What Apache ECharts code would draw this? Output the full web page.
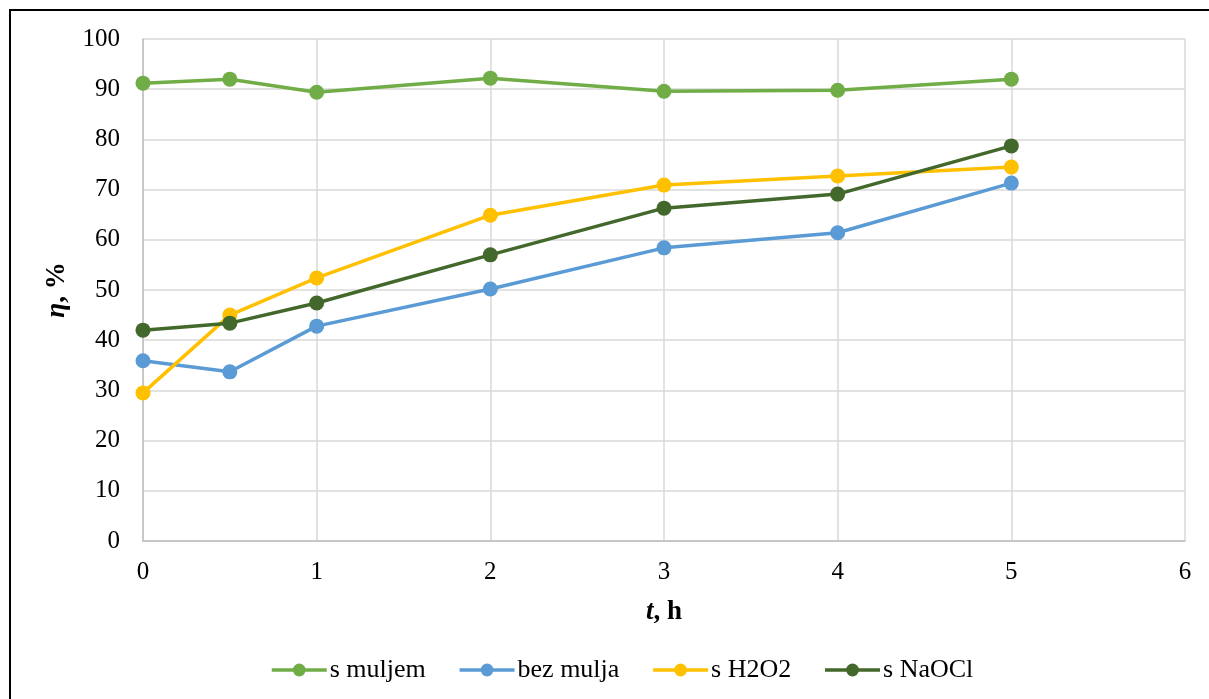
<!DOCTYPE html>
<html>
<head>
<meta charset="utf-8">
<script src="https://cdn.jsdelivr.net/npm/echarts@6/dist/echarts.min.js"></script>
<style>
html,body{margin:0;padding:0;background:#fff;}
#c{width:1209px;height:699px;}
</style>
</head>
<body>
<div id="c"></div>
<script>
const seriesNames = ['s muljem', 'bez mulja', 's H2O2', 's NaOCl'];
const tValues = [0, 0.5, 1, 2, 3, 4, 5];
const sMuljem = [91.2, 92.0, 89.4, 92.2, 89.6, 89.8, 92.0];
const bezMulja = [35.9, 33.7, 42.8, 50.2, 58.4, 61.4, 71.3];
const sH2O2 = [29.5, 45.0, 52.4, 64.9, 70.9, 72.7, 74.5];
const sNaOCl = [42.0, 43.4, 47.4, 57.0, 66.3, 69.1, 78.7];
const colors = ['#70AD47', '#5B9BD5', '#FFC000', '#43682B'];

const allData = [sMuljem, bezMulja, sH2O2, sNaOCl];
const font = 'Liberation Serif, Times New Roman, serif';

const chart = echarts.init(document.getElementById('c'), null, {renderer: 'canvas'});
chart.setOption({
  animation: false,
  backgroundColor: '#fff',
  textStyle: {fontFamily: font},
  grid: {left: 143, right: 24, top: 39, bottom: 158, containLabel: false},
  graphic: [
    {type: 'line', shape: {x1: 9, y1: 10, x2: 1209, y2: 10}, style: {stroke: '#000', lineWidth: 2}},
    {type: 'line', shape: {x1: 10, y1: 9, x2: 10, y2: 699}, style: {stroke: '#000', lineWidth: 2}}
  ],
  legend: {
    data: seriesNames,
    bottom: 11,
    left: 265,
    itemWidth: 55,
    itemHeight: 16,
    itemGap: 32,
    lineStyle: {width: 3.5},
    textStyle: {fontFamily: font, fontSize: 26, color: '#000', padding: [0, 0, 0, -2]}
  },
  xAxis: {
    type: 'value', min: 0, max: 6, interval: 1,
    name: '{i|t}{b|, h}', nameLocation: 'middle', nameGap: 58,
    nameTextStyle: {rich: {
      i: {fontFamily: font, fontSize: 27, fontWeight: 'bold', fontStyle: 'italic', color: '#000'},
      b: {fontFamily: font, fontSize: 27, fontWeight: 'bold', color: '#000'}
    }},
    axisLine: {show: true, lineStyle: {color: '#BFBFBF', width: 1.5}},
    axisTick: {show: false},
    axisLabel: {fontFamily: font, fontSize: 25, color: '#000', margin: 19},
    splitLine: {show: true, lineStyle: {color: '#D9D9D9', width: 1.5}}
  },
  yAxis: {
    type: 'value', min: 0, max: 100, interval: 10,
    name: '{i|η}{b|, %}', nameLocation: 'middle', nameGap: 72, nameRotate: 90,
    nameTextStyle: {rich: {
      i: {fontFamily: font, fontSize: 27, fontWeight: 'bold', fontStyle: 'italic', color: '#000'},
      b: {fontFamily: font, fontSize: 27, fontWeight: 'bold', color: '#000'}
    }},
    axisLine: {show: true, lineStyle: {color: '#BFBFBF', width: 1.5}},
    axisTick: {show: false},
    axisLabel: {fontFamily: font, fontSize: 25, color: '#000', margin: 23},
    splitLine: {show: true, lineStyle: {color: '#D9D9D9', width: 1.5}}
  },
  series: seriesNames.map((n, i) => ({
    name: n,
    type: 'line',
    data: tValues.map((t, j) => [t, allData[i][j]]),
    symbol: 'circle',
    symbolSize: 15,
    lineStyle: {color: colors[i], width: 3.5},
    itemStyle: {color: colors[i]},
    z: 2 + i
  }))
});
</script>
</body>
</html>
